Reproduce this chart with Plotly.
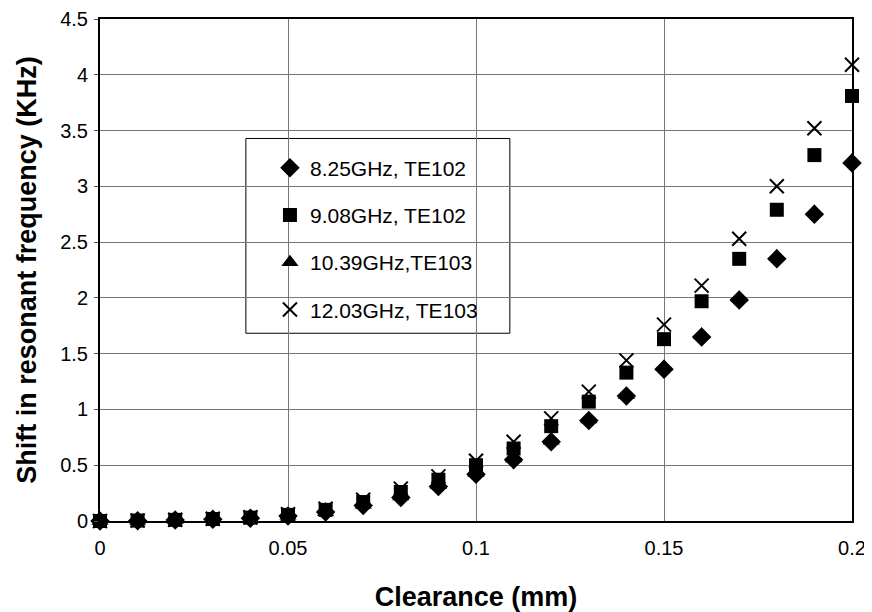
import plotly.graph_objects as go

# Clearance values (mm)
clearance = [0.0, 0.01, 0.02, 0.03, 0.04, 0.05, 0.06, 0.07, 0.08, 0.09, 0.10,
             0.11, 0.12, 0.13, 0.14, 0.15, 0.16, 0.17, 0.18, 0.19, 0.20]

# Frequency shift (KHz)
shift_825 = [0.0, 0.003, 0.008, 0.015, 0.025, 0.045, 0.08, 0.14, 0.21, 0.31, 0.42,
             0.55, 0.71, 0.90, 1.12, 1.36, 1.65, 1.98, 2.35, 2.75, 3.21]
shift_908 = [0.0, 0.004, 0.01, 0.018, 0.03, 0.055, 0.10, 0.17, 0.26, 0.37, 0.50,
             0.65, 0.85, 1.07, 1.33, 1.63, 1.97, 2.35, 2.79, 3.28, 3.81]
shift_1039 = [0.0, 0.003, 0.008, 0.015, 0.025, 0.046, 0.08, 0.145, 0.22, 0.32, 0.43,
              0.56, 0.72, 0.91, 1.13, 1.38, 1.67, 2.0, 2.37, 2.77, 3.23]
shift_1203 = [0.0, 0.004, 0.011, 0.02, 0.033, 0.06, 0.11, 0.19, 0.29, 0.40, 0.54,
              0.71, 0.92, 1.16, 1.44, 1.76, 2.11, 2.53, 3.0, 3.52, 4.09]

series_names = ['8.25GHz, TE102', '9.08GHz, TE102', '10.39GHz,TE103', '12.03GHz, TE103']
series_values = [shift_825, shift_908, shift_1039, shift_1203]
symbols = ['diamond', 'square', 'triangle-up', 'x-thin']
sizes = [15, 14, 15, 14]

FONT = 'Liberation Sans, Arial, sans-serif'

fig = go.Figure()
for i, (name, vals) in enumerate(zip(series_names, series_values)):
    marker = dict(symbol=symbols[i], size=sizes[i], color='black')
    if symbols[i] == 'x-thin':
        marker['line'] = dict(color='black', width=2)
    fig.add_trace(go.Scatter(
        x=clearance, y=vals, mode='markers', name=name,
        legendgroup=f'g{i}', marker=marker, cliponaxis=False,
    ))

# Caja de la leyenda
fig.add_shape(type='rect', xref='paper', yref='paper',
              x0=0.194, x1=0.545, y0=0.374, y1=0.762,
              line=dict(color='black', width=1), fillcolor='white', layer='below')

# La página añade 8 px de margen al body, por eso 864x604
fig.update_layout(
    width=864, height=604,
    margin=dict(l=92, r=20, t=11, b=91),
    paper_bgcolor='white', plot_bgcolor='white',
    font=dict(family=FONT, color='black'),
    legend=dict(
        x=0.226, y=0.744, xanchor='left', yanchor='top',
        bgcolor='rgba(0,0,0,0)', borderwidth=0,
        font=dict(size=21, family=FONT, color='black'),
        tracegroupgap=17,
    ),
    xaxis=dict(
        range=[0, 0.2], tickvals=[0, 0.05, 0.1, 0.15, 0.2],
        ticktext=['0', '0.05', '0.1', '0.15', '0.2'],
        showgrid=True, gridcolor='#777', gridwidth=1,
        showline=True, linecolor='black', linewidth=2, mirror=True,
        zeroline=False, ticks='', ticklabelstandoff=8, automargin=False,
        ticklabeloverflow='allow',
        tickfont=dict(size=20, family=FONT),
        title=dict(text='<b>Clearance (mm)</b>', font=dict(size=27, family=FONT), standoff=30),
    ),
    yaxis=dict(
        range=[0, 4.5], tickvals=[0, 0.5, 1, 1.5, 2, 2.5, 3, 3.5, 4, 4.5],
        ticktext=['0', '0.5', '1', '1.5', '2', '2.5', '3', '3.5', '4', '4.5'],
        showgrid=True, gridcolor='#777', gridwidth=1,
        showline=True, linecolor='black', linewidth=2, mirror=True,
        zeroline=False, ticks='outside', ticklen=4, tickcolor='#555',
        ticklabelstandoff=2, automargin=False,
        ticklabeloverflow='allow',
        tickfont=dict(size=20, family=FONT),
        title=dict(text='<b>Shift in resonant frequency (KHz)</b>', font=dict(size=27, family=FONT), standoff=16),
    ),
)

fig.write_html("out.html")
